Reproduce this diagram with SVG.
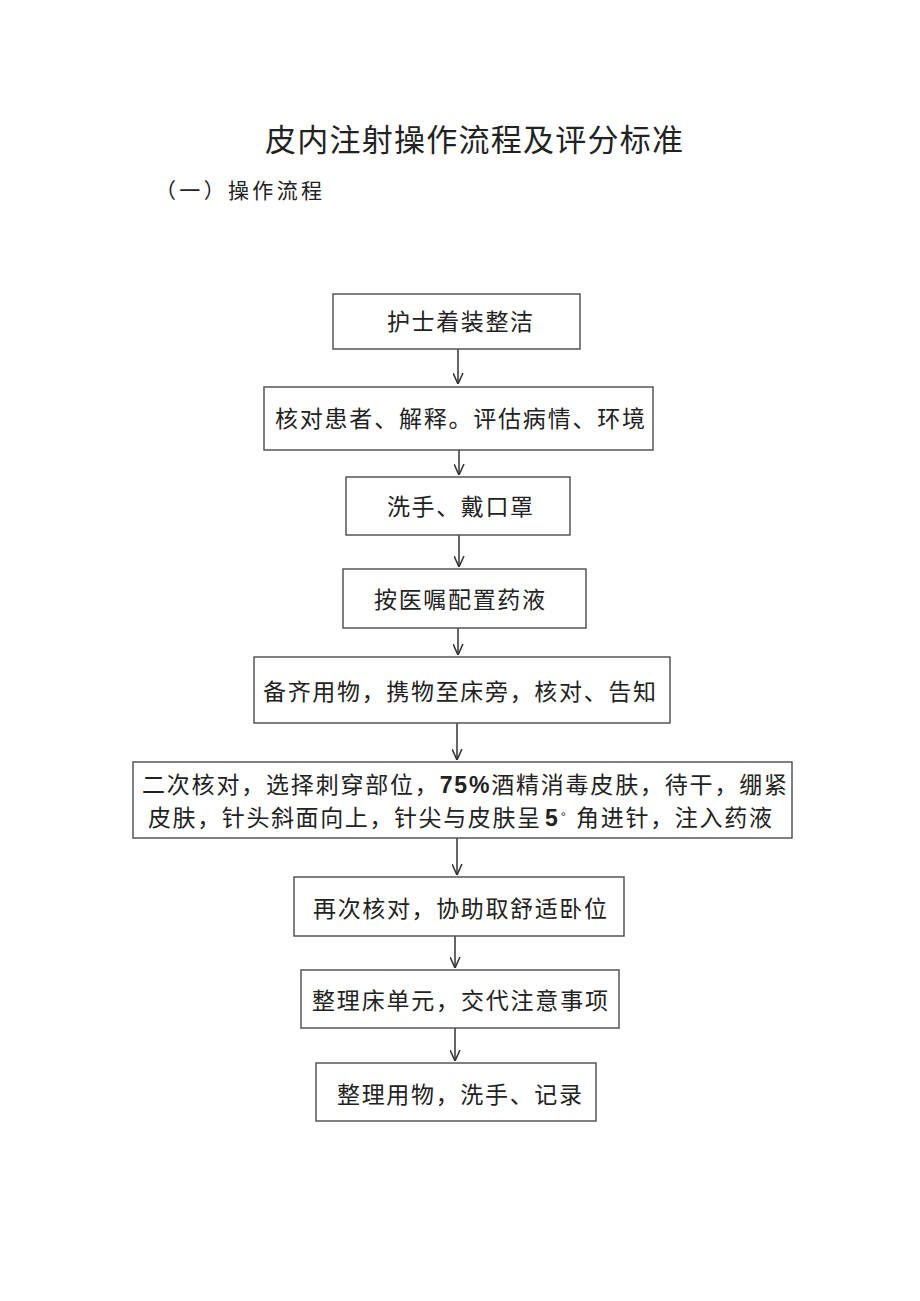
<svg xmlns="http://www.w3.org/2000/svg" width="920" height="1301" viewBox="0 0 920 1301">
<defs>
<style>
.t{font-family:"Noto Sans CJK SC","Noto Sans CJK JP",sans-serif;fill:#222;}
.bt{font-family:"Noto Sans CJK SC","Noto Sans CJK JP",sans-serif;font-size:23px;fill:#222;}
.lat{font-family:"Liberation Sans",sans-serif;}
.box{fill:#fff;stroke:#555;stroke-width:1.5;}
.c{stroke:#333;stroke-width:1.5;fill:none;}
</style>
<marker id="ah" viewBox="0 0 10 10" refX="10" refY="5" markerWidth="11" markerHeight="11" markerUnits="userSpaceOnUse" orient="auto">
<path d="M0,0.5 L10,5 L0,9.5" fill="none" stroke="#333" stroke-width="1.4"/>
</marker>
</defs>
<rect width="920" height="1301" fill="#fff"/>
<text class="t" x="265" y="151" font-size="31" textLength="418" lengthAdjust="spacing">皮内注射操作流程及评分标准</text>
<text class="t" x="155" y="198" font-size="21" textLength="167" lengthAdjust="spacing">（一）操作流程</text>

<g id="connectors">
<line class="c" x1="458" y1="349" x2="458" y2="384" marker-end="url(#ah)"/>
<line class="c" x1="459" y1="450" x2="459" y2="475" marker-end="url(#ah)"/>
<line class="c" x1="459" y1="535" x2="459" y2="567" marker-end="url(#ah)"/>
<line class="c" x1="458" y1="628" x2="458" y2="655" marker-end="url(#ah)"/>
<line class="c" x1="457" y1="723" x2="457" y2="760" marker-end="url(#ah)"/>
<line class="c" x1="457" y1="838" x2="457" y2="875" marker-end="url(#ah)"/>
<line class="c" x1="455" y1="936" x2="455" y2="968" marker-end="url(#ah)"/>
<line class="c" x1="455" y1="1028" x2="455" y2="1061" marker-end="url(#ah)"/>
</g>

<g id="n1"><rect class="box" x="333" y="294" width="247" height="55"/>
<text class="bt" x="387" y="330" textLength="146" lengthAdjust="spacing">护士着装整洁</text></g>
<g id="n2"><rect class="box" x="264" y="387" width="389" height="63"/>
<text class="bt" x="275" y="427" textLength="370" lengthAdjust="spacing">核对患者、解释。评估病情、环境</text></g>
<g id="n3"><rect class="box" x="346" y="477" width="224" height="58"/>
<text class="bt" x="387" y="515" textLength="146" lengthAdjust="spacing">洗手、戴口罩</text></g>
<g id="n4"><rect class="box" x="343" y="569" width="243" height="59"/>
<text class="bt" x="374" y="608" textLength="171" lengthAdjust="spacing">按医嘱配置药液</text></g>
<g id="n5"><rect class="box" x="254" y="657" width="416" height="66"/>
<text class="bt" x="263" y="700" textLength="393" lengthAdjust="spacing">备齐用物，携物至床旁，核对、告知</text></g>
<g id="n6"><rect class="box" x="133" y="762" width="659" height="76"/>
<text class="bt" x="142" y="793" textLength="645" lengthAdjust="spacing">二次核对，选择刺穿部位，<tspan class="lat" font-weight="bold">75%</tspan>酒精消毒皮肤，待干，绷紧</text>
<text class="bt" x="148" y="826" textLength="392" lengthAdjust="spacing">皮肤，针头斜面向上，针尖与皮肤呈</text>
<text class="bt lat" x="545" y="826" font-weight="bold">5<tspan dx="3" dy="-5" style="font-size:13px;font-weight:normal">°</tspan></text>
<text class="bt" x="576" y="826" textLength="196" lengthAdjust="spacing">角进针，注入药液</text></g>
<g id="n7"><rect class="box" x="294" y="877" width="330" height="59"/>
<text class="bt" x="313" y="917" textLength="294" lengthAdjust="spacing">再次核对，协助取舒适卧位</text></g>
<g id="n8"><rect class="box" x="301" y="970" width="318" height="58"/>
<text class="bt" x="312" y="1009" textLength="296" lengthAdjust="spacing">整理床单元，交代注意事项</text></g>
<g id="n9"><rect class="box" x="316" y="1063" width="280" height="58"/>
<text class="bt" x="337" y="1103" textLength="245" lengthAdjust="spacing">整理用物，洗手、记录</text></g>
</svg>
